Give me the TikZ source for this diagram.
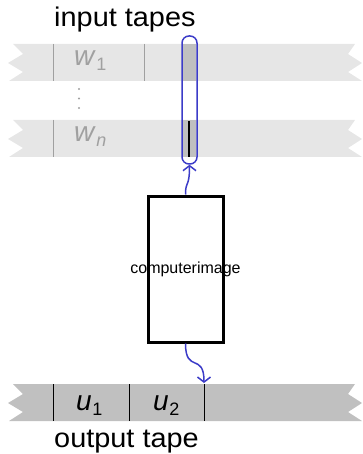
\documentclass[tikz,border=0pt]{standalone}
\usepackage{fontspec}
\setmainfont{Liberation Sans}
\usetikzlibrary{arrows.meta}
\definecolor{tapelight}{HTML}{E6E6E6}
\definecolor{tapedark}{HTML}{C0C0C0}
\definecolor{labgray}{HTML}{A0A0A0}
\definecolor{headblue}{RGB}{60,60,200}
\newcommand{\tapeshape}{(13,0) -- (23,10) -- (8,19) -- (23,28) -- (9,37) -- (362,37) -- (348,28) -- (362,19) -- (348,10) -- (355,0) -- cycle}
\newcommand{\symb}[2]{\textit{#1}\kern0.5pt\raisebox{-5pt}{\fontsize{18}{18}\selectfont #2}}
\begin{document}
\begin{tikzpicture}[x=1pt,y=-1pt,
  bigtext/.style={font=\fontsize{27}{30}\selectfont, inner sep=0pt, anchor=base west, xscale=1.07},
  symtext/.style={font=\fontsize{28}{30}\selectfont, inner sep=0pt, anchor=base west},
  graydiv/.style={draw=labgray, line width=1pt},
  blackdiv/.style={draw=black, line width=1pt},
  flow/.style={draw=headblue, line width=1.5pt, -{Straight Barb[length=5pt,width=13pt]}},
  headbox/.style={draw=headblue, line width=1.5pt, rounded corners=7pt, minimum width=15pt, minimum height=128pt, inner sep=0pt},
  compbox/.style={draw=black, line width=3pt, minimum width=75pt, minimum height=146pt, inner sep=0pt}
]
\useasboundingbox (0,0) rectangle (362,454);
% input tape 1
\begin{scope}[shift={(0,44)}]
  \fill[tapelight] \tapeshape;
\end{scope}
\fill[tapedark] (182,44) rectangle (196,81);
\draw[graydiv] (53,44) -- (53,81);
\draw[graydiv] (144,44) -- (144,81);
% input tape n
\begin{scope}[shift={(0,120)}]
  \fill[tapelight] \tapeshape;
\end{scope}
\fill[tapedark] (182,120) rectangle (196,157);
\draw[graydiv] (53,120) -- (53,157);
\draw[black, line width=1.2pt] (189,121) -- (189,157);
% dots
\fill[labgray] (79,89) circle (1.2);
\fill[labgray] (79,98.5) circle (1.2);
\fill[labgray] (79,108) circle (1.2);
% labels on input tapes
\node[symtext, text=labgray] (w1) at (74,66) {\symb{w}{1}};
\node[symtext, text=labgray] (wn) at (74,142) {\symb{w}{\itshape n}};
% output tape
\begin{scope}[shift={(0,384)}]
  \fill[tapedark] \tapeshape;
\end{scope}
\draw[blackdiv] (53,384) -- (53,421);
\draw[blackdiv] (129,384) -- (129,421);
\draw[blackdiv] (204,384) -- (204,421);
\node[symtext] (u1) at (76,410) {\symb{u}{1}};
\node[symtext] (u2) at (153,410) {\symb{u}{2}};
% titles
\node[bigtext] (intitle) at (54,27) {input tapes};
\node[bigtext] (outtitle) at (54,447) {output tape};
% head
\node[headbox] (head) at (189.5,100) {};
% computer
\node[compbox] (comp) at (185.5,269) {};
\node[font=\fontsize{16}{18}\selectfont, inner sep=0pt] (complabel) at (comp.center) {computerimage};
% arrows
\coordinate (outpos) at (204,383);
\draw[flow] (comp.north) .. controls (185.5,180) and (189.5,188) .. (head.south);
\draw[flow] (comp.south) .. controls (185.5,374) and (204,352) .. (outpos);
\end{tikzpicture}
\end{document}
